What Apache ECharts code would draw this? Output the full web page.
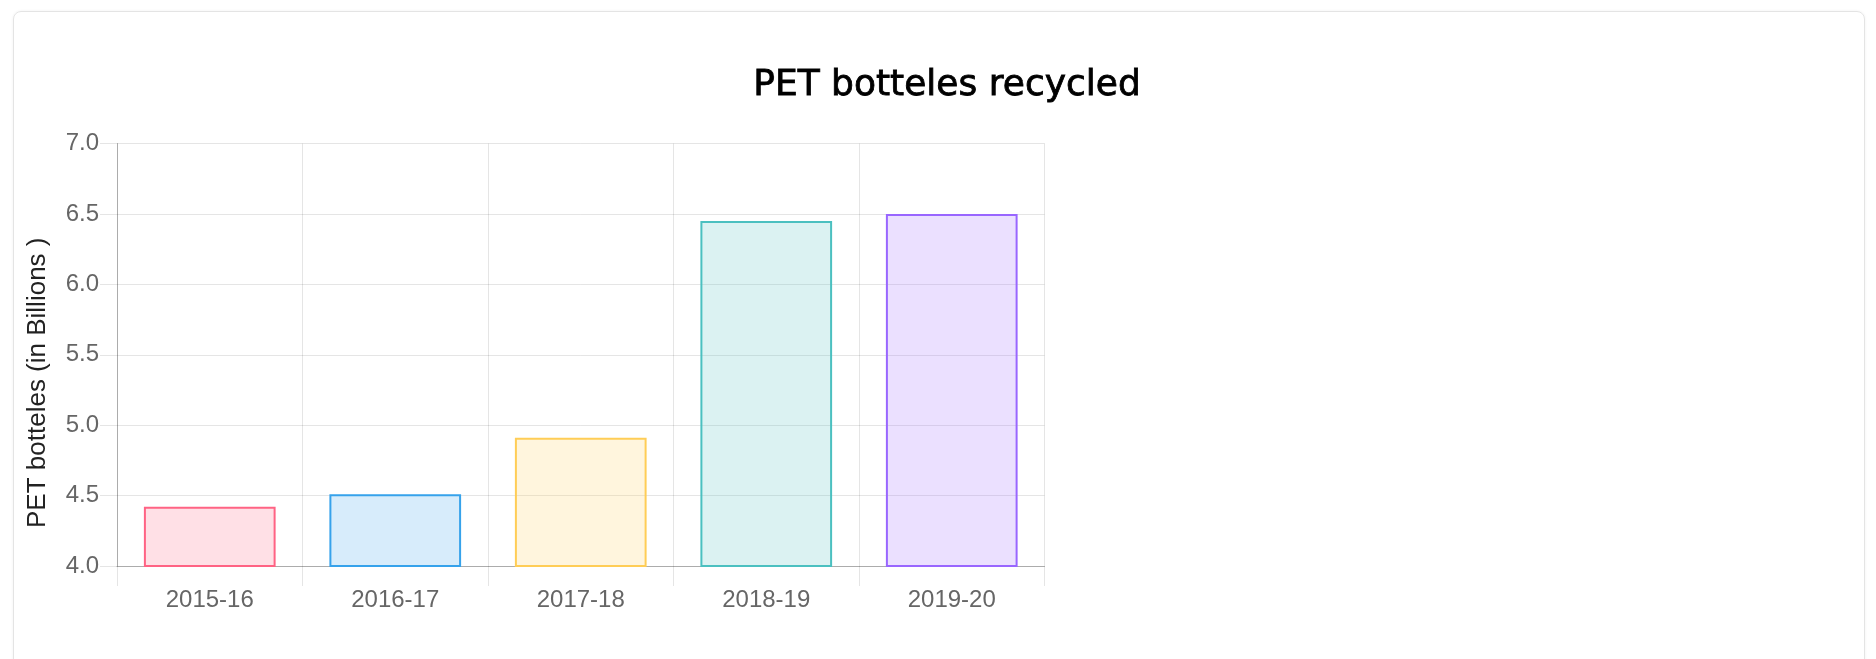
<!DOCTYPE html>
<html>
<head>
<meta charset="utf-8">
<title>PET botteles recycled</title>
<script src="https://cdn.jsdelivr.net/npm/echarts@6/dist/echarts.min.js"></script>
<style>
  html, body { margin: 0; padding: 0; background: #fff; }
  #card {
    position: absolute; left: 13px; top: 11px; width: 1852px; height: 700px;
    border: 1px solid #e4e4e4; border-radius: 8px; box-sizing: border-box;
    box-shadow: 0 0 3px rgba(0,0,0,0.06);
  }
  #main { position: absolute; left: 0; top: 0; width: 1876px; height: 659px; }
</style>
</head>
<body>
<div id="card"></div>
<div id="main"></div>
<script>
// 数据
const years = ['2015-16', '2016-17', '2017-18', '2018-19', '2019-20'];
const bottles = [4.42, 4.51, 4.91, 6.45, 6.5];
const fills = ['rgba(255,99,132,0.2)', 'rgba(54,162,235,0.2)', 'rgba(255,205,86,0.2)', 'rgba(75,192,192,0.2)', 'rgba(153,102,255,0.2)'];
const borders = ['rgb(255,99,132)', 'rgb(54,162,235)', 'rgb(255,205,86)', 'rgb(75,192,192)', 'rgb(153,102,255)'];

const gridColor = 'rgba(0,0,0,0.1)';
const axisColor = 'rgba(0,0,0,0.25)';

const chart = echarts.init(document.getElementById('main'), null, { renderer: 'canvas' });

const option = {
  animation: false,
  title: {
    text: 'PET botteles recycled',
    left: 942,
    textAlign: 'center',
    top: 63,
    textStyle: {
      fontFamily: 'DejaVu Sans', fontWeight: 'normal', fontSize: 36, color: '#000',
      textBorderColor: '#000', textBorderWidth: 0.8
    }
  },
  grid: {
    left: 117, top: 143.5, width: 927.5, height: 422.5,
    containLabel: false, outerBoundsMode: 'none'
  },
  xAxis: {
    type: 'category',
    data: years,
    axisLine: { show: true, lineStyle: { color: axisColor, width: 1 } },
    axisTick: { show: true, length: 20, interval: 0, lineStyle: { color: gridColor } },
    splitLine: { show: true, interval: 0, lineStyle: { color: gridColor } },
    axisLabel: { color: '#666', fontFamily: 'Liberation Sans', fontSize: 24, margin: 22 }
  },
  yAxis: {
    type: 'value',
    min: 4,
    max: 7,
    interval: 0.5,
    name: 'PET botteles (in Billions )',
    nameLocation: 'middle',
    nameRotate: 90,
    nameGap: 66,
    nameTextStyle: { color: '#222', fontFamily: 'Liberation Sans', fontSize: 26, padding: [0, 56, 0, 0] },
    axisLine: { show: true, lineStyle: { color: axisColor, width: 1 } },
    axisTick: { show: true, length: 17, lineStyle: { color: gridColor } },
    splitLine: { show: true, lineStyle: { color: gridColor } },
    axisLabel: {
      color: '#666', fontFamily: 'Liberation Sans', fontSize: 24, margin: 18,
      formatter: function (v) { return v.toFixed(1); }
    }
  },
  series: [{
    type: 'bar',
    barCategoryGap: '29%',
    data: bottles.map(function (v, i) {
      return { value: v, itemStyle: { color: fills[i], borderColor: borders[i], borderWidth: 2 } };
    })
  }]
};

chart.setOption(option);
</script>
</body>
</html>
